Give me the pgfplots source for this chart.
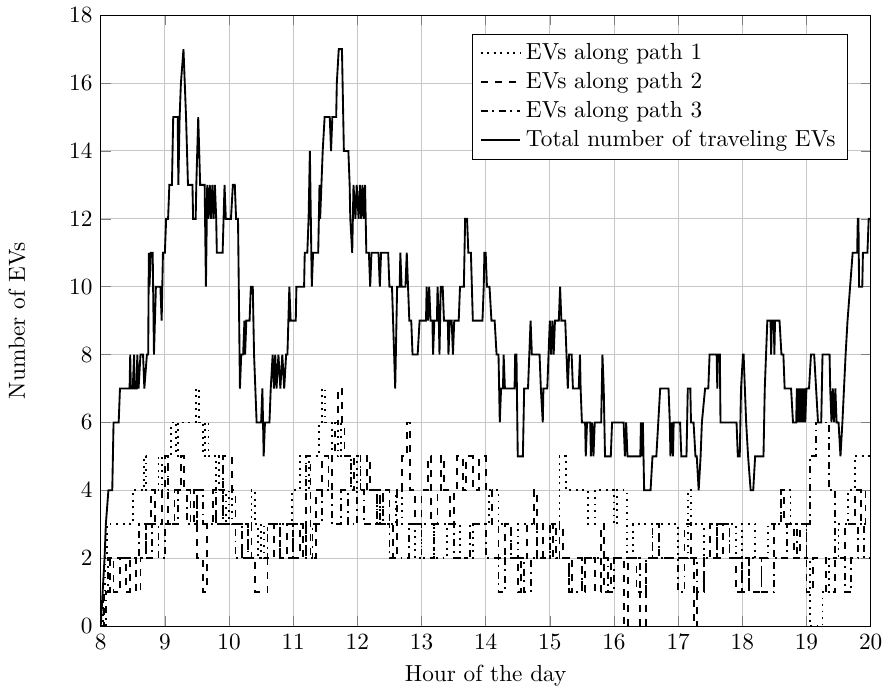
\documentclass[border=0pt]{standalone}
\usepackage{pgfplots}
\pgfplotsset{compat=1.18}
\begin{document}
\begin{tikzpicture}
\begin{axis}[
  width=331pt, height=262.6pt, scale only axis,
  xmin=8, xmax=20, ymin=0, ymax=18,
  xtick={8,9,...,20}, ytick={0,2,...,18},
  grid=major, major grid style={black!22},
  xlabel={Hour of the day}, ylabel={Number of EVs},
  ylabel style={yshift=12pt},
  legend pos=north east, legend cell align=left,
  legend style={font=\normalsize},
]
% path 1 (dotted)
\addplot[thick, black, dotted, const plot] coordinates {
(8,0)(8.04,1)(8.07,2)(8.1,3)(8.5,4)(8.68,5)(8.71,4)(8.9,5)(8.95,4)(9.05,5)(9.1,6)(9.18,5)(9.2,6)(9.48,7)(9.53,6)(9.6,5)(9.62,6)(9.68,5)(9.8,4)(9.85,5)(9.9,4)(9.95,3)(10.0,4)(10.05,3)(10.35,4)(10.4,3)(10.45,2)(10.5,3)(10.55,2)(10.6,3)(10.98,4)(11.1,5)(11.2,4)(11.25,5)(11.4,6)(11.45,7)(11.5,6)(11.6,5)(11.7,6)(11.75,5)(11.9,4)(12.0,5)(12.05,4)(12.3,3)(12.35,4)(12.4,3)(12.6,4)(12.7,3)(12.9,2)(13.0,3)(13.2,2)(13.4,3)(13.6,2)(13.8,3)(14.05,4)(14.2,3)(14.4,2)(14.5,3)(14.8,2)(15.0,3)(15.15,5)(15.25,4)(15.6,3)(15.7,4)(16.0,3)(16.05,4)(16.2,2)(16.3,3)(16.6,2)(16.7,3)(17.0,2)(17.15,4)(17.2,3)(17.4,2)(17.6,3)(17.9,2)(18.0,3)(18.2,2)(18.4,3)(18.6,4)(18.75,3)(19.0,2)(19.05,0)(19.25,1)(19.35,2)(19.5,3)(19.65,4)(19.75,5)(20,5)
};
\addlegendentry{EVs along path 1}
% path 2 (dashed)
\addplot[thick, black, dashed, const plot] coordinates {
(8,0)(8.05,1)(8.15,2)(8.2,1)(8.3,2)(8.4,1)(8.45,2)(8.55,1)(8.62,2)(8.7,3)(8.78,4)(8.85,3)(8.95,4)(9.0,5)(9.05,3)(9.15,4)(9.25,5)(9.3,4)(9.4,3)(9.45,4)(9.5,2)(9.6,1)(9.65,3)(9.75,4)(9.8,3)(9.9,5)(10.05,4)(10.1,3)(10.2,2)(10.3,3)(10.35,2)(10.4,1)(10.6,2)(10.7,3)(10.8,2)(10.9,3)(11.0,2)(11.1,3)(11.15,2)(11.2,5)(11.27,2)(11.35,4)(11.45,5)(11.55,4)(11.6,5)(11.65,6)(11.7,7)(11.76,6)(11.8,5)(11.9,4)(11.95,5)(12.05,4)(12.15,5)(12.2,4)(12.3,3)(12.4,4)(12.5,3)(12.55,2)(12.62,4)(12.7,5)(12.78,6)(12.82,4)(12.9,3)(13.0,4)(13.1,5)(13.15,3)(13.25,4)(13.3,5)(13.35,4)(13.45,3)(13.5,4)(13.55,5)(13.65,4)(13.7,5)(13.8,4)(13.9,5)(14.0,4)(14.1,3)(14.2,2)(14.3,3)(14.4,2)(14.5,1)(14.55,2)(14.65,3)(14.75,4)(14.8,2)(14.9,3)(15.05,2)(15.15,3)(15.2,2)(15.3,1)(15.35,2)(15.5,1)(15.55,2)(15.7,1)(15.8,3)(15.85,1)(15.95,2)(16.15,0)(16.22,2)(16.35,1)(16.4,0)(16.5,2)(16.6,3)(16.7,2)(17.1,3)(17.2,2)(17.25,0)(17.3,1)(17.4,2)(17.5,3)(17.6,2)(17.7,3)(17.8,2)(17.9,1)(18.0,2)(18.1,1)(18.3,2)(18.5,3)(18.6,4)(18.65,3)(18.8,2)(18.9,3)(19.0,1)(19.1,2)(19.3,1)(19.45,2)(19.6,3)(19.75,4)(19.85,3)(19.92,4)(20,4)
};
\addlegendentry{EVs along path 2}
% path 3 (dash-dot)
\addplot[thick, black, dashdotted, const plot] coordinates {
(8,0)(8.08,1)(8.12,2)(8.6,3)(8.7,2)(8.8,3)(8.9,2)(9.0,3)(9.2,4)(9.35,3)(9.5,4)(9.6,3)(9.8,4)(9.9,3)(10.1,2)(10.2,3)(10.3,2)(10.6,3)(10.8,2)(11.0,3)(11.2,2)(11.3,3)(11.45,4)(11.6,3)(11.75,4)(11.85,3)(12.0,4)(12.1,3)(12.3,4)(12.35,3)(12.5,2)(12.8,3)(13.0,2)(13.2,3)(13.5,2)(13.75,3)(14.0,2)(14.2,1)(14.3,2)(14.6,1)(14.7,2)(15.0,3)(15.1,2)(15.3,1)(15.5,2)(15.9,1)(16.0,2)(16.4,1)(16.5,2)(17.0,1)(17.1,2)(17.3,1)(17.4,2)(17.6,3)(17.8,2)(18.0,1)(18.1,2)(18.3,1)(18.5,2)(18.7,3)(18.85,2)(19.0,3)(19.05,5)(19.15,6)(19.35,4)(19.45,2)(19.6,1)(19.7,2)(19.8,3)(19.9,2)(20,2)
};
\addlegendentry{EVs along path 3}
% total
\addplot[thick, black] coordinates {
(8.00,0)(8.03,1)(8.06,2)(8.08,3)(8.12,4)(8.18,4)(8.2,6)(8.28,6)(8.3,7)(8.45,7)(8.46,8)(8.47,7)(8.5,7)(8.52,8)(8.53,7)(8.56,7)(8.57,8)(8.59,7)(8.62,8)(8.66,8)(8.68,7)
(8.72,8)(8.74,8)(8.75,11)(8.76,10)(8.78,11)(8.81,11)(8.83,8)(8.86,10)(8.93,10)(8.95,9)(8.97,11)(9.0,11)(9.02,12)(9.05,12)(9.07,13)(9.11,13)(9.13,15)(9.2,15)(9.21,13)(9.23,15)(9.25,16)(9.29,17)(9.31,16)(9.33,15)(9.36,13)(9.43,13)(9.44,12)(9.48,12)(9.49,13)(9.52,15)(9.55,13)(9.62,13)(9.64,10)(9.66,13)(9.68,12)(9.7,13)(9.72,12)(9.74,13)(9.76,12)(9.78,13)(9.8,12)(9.81,11)(9.9,11)(9.93,13)(9.95,12)(10.03,12)
(10.06,13)(10.09,13)(10.11,12)(10.14,12)(10.17,7)(10.19,8)(10.22,8)(10.24,9)(10.25,8)(10.27,9)(10.32,9)(10.34,10)(10.37,10)(10.39,8)(10.41,7)(10.43,6)(10.5,6)(10.52,7)(10.54,5)(10.56,6)(10.63,6)(10.65,7)(10.68,8)(10.7,7)(10.72,8)(10.74,7)(10.77,8)(10.8,7)(10.83,8)(10.86,7)(10.89,8)(10.91,8)(10.94,10)(10.96,9)(11.04,9)(11.05,10)(11.17,10)(11.18,11)(11.22,11)(11.24,12)(11.26,14)(11.29,10)(11.31,11)(11.39,11)(11.41,13)(11.42,12)(11.44,13)(11.46,14)(11.49,15)(11.57,15)(11.59,14)(11.61,15)(11.67,15)(11.68,16)(11.71,17)(11.76,17)(11.77,16)(11.79,14)(11.86,14)(11.88,13)(11.89,12)(11.92,11)(11.94,13)(11.97,12)(11.99,13)(12.02,12)
(12.04,13)(12.06,12)(12.08,13)(12.1,12)(12.12,13)(12.14,11)(12.18,11)(12.2,10)(12.22,11)(12.33,11)(12.35,10)(12.37,11)(12.48,11)(12.5,10)(12.54,10)(12.59,7)(12.62,10)(12.66,10)(12.67,11)(12.69,10)(12.75,10)(12.77,11)(12.79,10)(12.81,9)(12.84,9)(12.86,8)(12.94,8)(12.97,9)(13.07,9)(13.08,10)(13.1,9)(13.12,10)(13.14,9)(13.17,9)(13.18,8)(13.2,9)(13.24,9)(13.25,10)(13.27,9)(13.28,8)(13.3,10)(13.33,10)(13.35,9)(13.41,9)(13.42,8)(13.44,9)(13.47,9)(13.49,8)(13.51,9)(13.58,9)(13.6,10)(13.66,10)(13.68,12)(13.71,12)(13.73,11)(13.77,11)(13.8,9)(13.95,9)(13.97,10)(13.98,11)(14.0,11)(14.02,10)
(14.06,10)(14.09,9)(14.14,9)(14.17,8)(14.2,8)(14.22,6)(14.24,7)(14.27,7)(14.28,8)(14.3,7)(14.45,7)(14.46,8)(14.48,8)(14.5,5)(14.58,5)(14.6,7)(14.66,7)(14.68,8)(14.7,9)(14.72,8)(14.84,8)(14.86,7)(14.89,6)(14.9,7)(14.96,7)(14.98,8)(15.0,9)(15.02,8)(15.04,9)(15.06,8)(15.08,9)(15.14,9)(15.16,10)(15.18,9)(15.24,9)(15.26,8)(15.28,7)(15.3,8)(15.34,8)(15.36,7)(15.45,7)(15.47,8)(15.48,7)(15.5,6)(15.55,6)(15.56,5)(15.58,6)(15.63,6)(15.64,5)(15.66,6)(15.68,5)(15.7,6)(15.8,6)(15.82,8)(15.84,7)(15.86,5)(15.95,5)(15.97,6)(16.05,6)
(16.15,6)(16.17,5)(16.19,6)(16.21,5)(16.41,5)(16.42,6)(16.44,5)(16.45,6)(16.47,4)(16.57,4)(16.6,5)(16.66,5)(16.69,6)(16.72,7)(16.85,7)(16.87,6)(16.88,5)(16.9,6)(16.92,5)(16.93,6)(17.03,6)(17.05,5)(17.13,5)(17.15,7)(17.19,7)(17.2,6)(17.24,6)(17.27,5)(17.29,5)(17.32,4)(17.35,5)(17.37,6)(17.42,7)(17.47,7)(17.49,8)(17.6,8)(17.61,7)(17.62,8)(17.65,8)(17.66,6)(17.91,6)(17.93,5)(17.96,5)(17.98,7)(18.01,8)
(18.02,8)(18.06,6)(18.09,5)(18.13,4)(18.17,4)(18.2,5)(18.33,5)(18.35,7)(18.39,9)(18.44,9)(18.45,8)(18.46,9)(18.49,9)(18.5,8)(18.51,9)(18.58,9)(18.61,8)(18.64,8)(18.66,7)(18.76,7)(18.79,6)(18.84,6)(18.85,7)(18.86,6)(18.88,7)(18.89,6)(18.91,7)(18.92,6)(18.94,7)(18.95,6)(18.97,7)(18.98,6)(19.0,7)(19.04,7)(19.07,8)(19.12,8)(19.15,7)(19.18,6)(19.23,6)(19.25,8)(19.36,8)(19.37,7)(19.39,6)(19.41,7)(19.43,6)(19.45,7)(19.47,6)(19.5,6)(19.53,5)(19.56,6)(19.61,8)(19.64,9)(19.68,10)(19.72,11)(19.79,11)(19.8,12)(19.81,12)(19.82,10)(19.87,10)(19.88,11)(19.95,11)(19.97,12)(20.0,12)
};
\addlegendentry{Total number of traveling EVs}
\end{axis}
\path (current axis.south west) +(-43.3pt,-27.9pt) (current axis.north east) +(7.3pt,6.4pt);
\end{tikzpicture}
\end{document}
